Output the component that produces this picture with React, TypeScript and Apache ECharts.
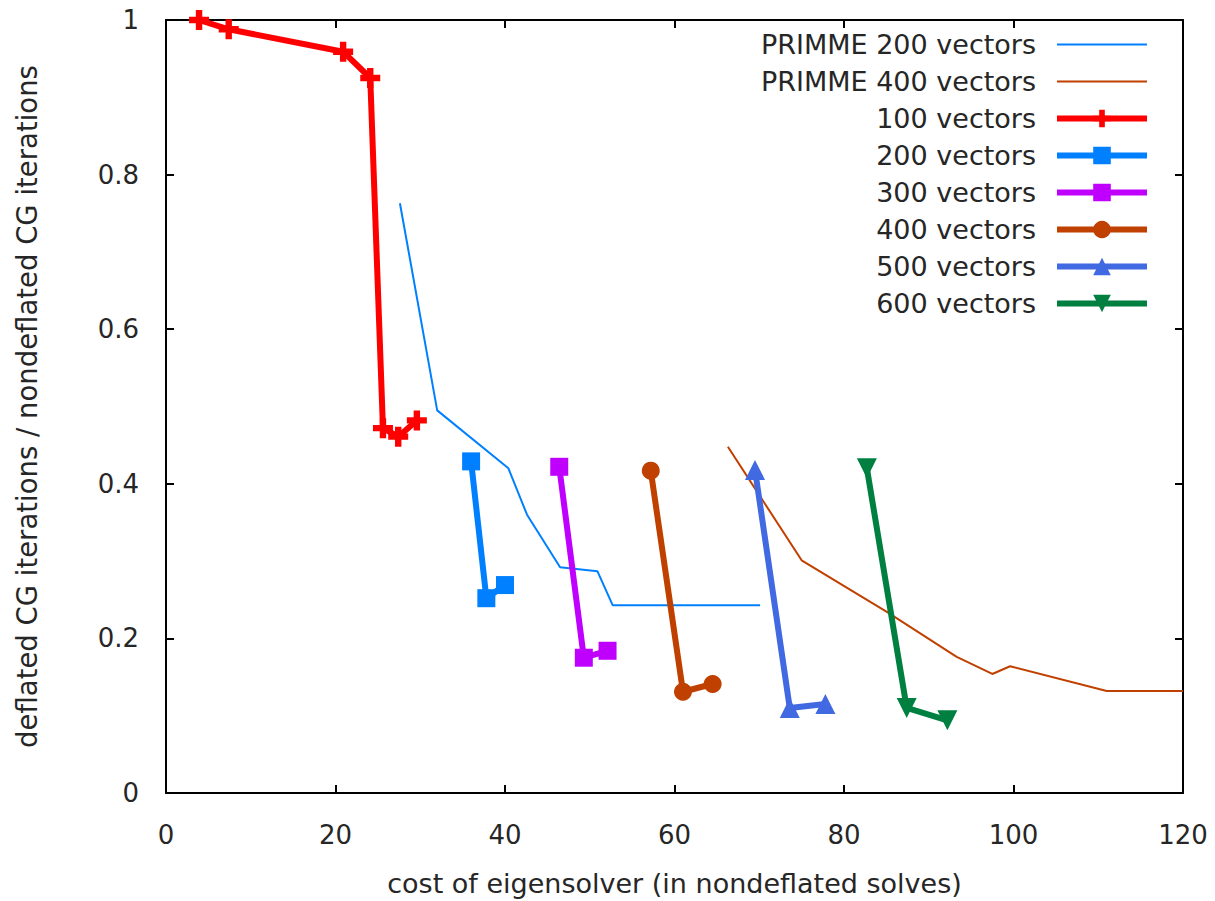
import React, { useEffect, useRef } from "react";
import * as echarts from "echarts";

const xTicks = [0, 20, 40, 60, 80, 100, 120];
const yTicks = [0, 0.2, 0.4, 0.6, 0.8, 1];

const primme200: number[][] = [
  [27.6, 0.763], [32.0, 0.495], [40.4, 0.42], [42.6, 0.36], [46.5, 0.292],
  [50.9, 0.287], [52.7, 0.243], [70.1, 0.243],
];
const primme400: number[][] = [
  [66.3, 0.448], [75.0, 0.301], [85.1, 0.234], [93.3, 0.176], [97.5, 0.154],
  [99.6, 0.164], [111.0, 0.132], [120.0, 0.132],
];
const vec100: number[][] = [
  [3.9, 1.0], [7.4, 0.988], [20.9, 0.959], [24.1, 0.925], [25.6, 0.472],
  [27.4, 0.461], [29.6, 0.482],
];
const vec200: number[][] = [[36.0, 0.429], [37.8, 0.252], [40.0, 0.269]];
const vec300: number[][] = [[46.4, 0.422], [49.3, 0.175], [52.1, 0.184]];
const vec400: number[][] = [[57.2, 0.417], [61.0, 0.131], [64.5, 0.141]];
const vec500: number[][] = [[69.5, 0.418], [73.6, 0.11], [77.8, 0.115]];
const vec600: number[][] = [[82.7, 0.42], [87.4, 0.11], [92.2, 0.094]];

const names = [
  "PRIMME 200 vectors",
  "PRIMME 400 vectors",
  "100 vectors",
  "200 vectors",
  "300 vectors",
  "400 vectors",
  "500 vectors",
  "600 vectors",
];

const FONT = "DejaVu Sans";
const TXT = "#262626";
const PLUS = "path://M3.4,0H6.6V3.4H10V6.6H6.6V10H3.4V6.6H0V3.4H3.4Z";
// thin line icon for legend (tiny corner specks keep the full box height)
const THIN_ICON =
  "path://M0,0L0.01,0L0.01,0.01Z M0,10H90V12H0Z M89.99,22L90,22L90,21.99Z";

export default function App() {
  const ref = useRef<HTMLDivElement>(null);
  useEffect(() => {
    document.body.style.margin = "0";
    const chart = echarts.init(ref.current!, null, { renderer: "svg" });
    const thin = (name: string, data: number[][], color: string) => ({
      name,
      type: "line",
      data,
      showSymbol: false,
      symbol: "none",
      lineStyle: { color, width: 2 },
      itemStyle: { color },
      z: 2,
    });
    const thick = (
      name: string,
      data: number[][],
      color: string,
      symbol: string,
      size: number,
      rotate = 0
    ) => ({
      name,
      type: "line",
      data,
      symbol,
      symbolSize: size,
      symbolRotate: rotate,
      lineStyle: { color, width: 6 },
      itemStyle: { color, borderWidth: 0 },
      z: 3,
    });
    const axisCommon = {
      axisLine: { show: true, onZero: false, lineStyle: { color: "#000", width: 2 } },
      axisTick: { show: true, inside: true, length: 8, lineStyle: { color: "#000", width: 2 } },
      splitLine: { show: false },
    };
    const legendData = names.map((n, i) =>
      i < 2 ? { name: n, icon: THIN_ICON } : { name: n, lineStyle: { width: 6 } }
    );
    chart.setOption({
      animation: false,
      backgroundColor: "#fff",
      grid: {
        left: 166,
        right: 32,
        top: 20,
        bottom: 108,
        containLabel: false,
        outerBoundsMode: "none",
      },
      legend: {
        orient: "vertical",
        align: "right",
        right: 65,
        top: 31,
        padding: 0,
        itemWidth: 90,
        itemHeight: 22,
        itemGap: 10,
        data: legendData,
        lineStyle: { width: 6 },
        textStyle: {
          fontFamily: FONT,
          fontSize: 27,
          lineHeight: 22,
          color: TXT,
          padding: [0, 16, 0, 0],
        },
      },
      xAxis: [
        {
          type: "value",
          min: xTicks[0],
          max: xTicks[xTicks.length - 1],
          interval: 20,
          position: "bottom",
          ...axisCommon,
          axisLabel: { fontFamily: FONT, fontSize: 26, color: TXT, margin: 29 },
          name: "cost of eigensolver (in nondeflated solves)",
          nameLocation: "middle",
          nameGap: 77,
          nameTextStyle: { fontFamily: FONT, fontSize: 27, color: TXT },
        },
        {
          type: "value",
          min: xTicks[0],
          max: xTicks[xTicks.length - 1],
          interval: 20,
          position: "top",
          ...axisCommon,
          axisLabel: { show: false },
        },
      ],
      yAxis: [
        {
          type: "value",
          min: yTicks[0],
          max: yTicks[yTicks.length - 1],
          interval: 0.2,
          position: "left",
          ...axisCommon,
          axisLabel: {
            fontFamily: FONT,
            fontSize: 26,
            color: TXT,
            margin: 27,
            formatter: (v: number) => (v === 0 || v === 1 ? String(v) : v.toFixed(1)),
          },
          name: "deflated CG iterations / nondeflated CG iterations",
          nameLocation: "middle",
          nameGap: 125,
          nameTextStyle: { fontFamily: FONT, fontSize: 27.5, color: TXT },
        },
        {
          type: "value",
          min: yTicks[0],
          max: yTicks[yTicks.length - 1],
          interval: 0.2,
          position: "right",
          ...axisCommon,
          axisLabel: { show: false },
        },
      ],
      series: [
        thin(names[0], primme200, "#0080ff"),
        thin(names[1], primme400, "#c04000"),
        thick(names[2], vec100, "#ff0000", PLUS, 20),
        thick(names[3], vec200, "#0080ff", "rect", 18),
        thick(names[4], vec300, "#c000ff", "rect", 18),
        thick(names[5], vec400, "#c04000", "circle", 18),
        thick(names[6], vec500, "#4169e1", "triangle", 20),
        thick(names[7], vec600, "#008040", "triangle", 20, 180),
      ],
    });
    return () => chart.dispose();
  }, []);
  return <div ref={ref} style={{ width: 1215, height: 901 }} />;
}
